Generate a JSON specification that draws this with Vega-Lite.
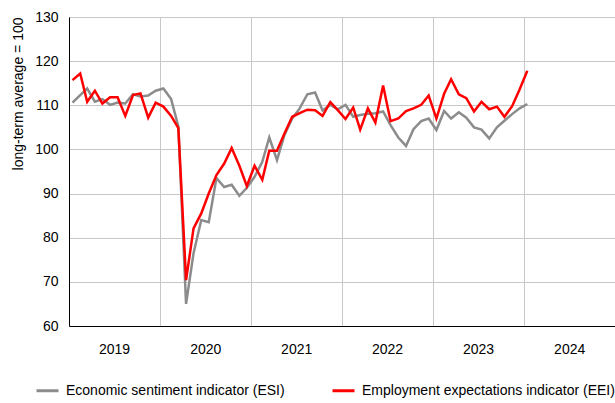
{
  "$schema": "https://vega.github.io/schema/vega-lite/v6.json",
  "width": 546,
  "height": 309,
  "autosize": {"type": "none"},
  "padding": {"left": 69, "top": 17, "right": 0, "bottom": 77},
  "background": "white",
  "config": {
    "font": "Liberation Sans",
    "view": {"stroke": null},
    "axis": {"labelFont": "Liberation Sans", "titleFont": "Liberation Sans", "labelFontSize": 14, "titleFontSize": 14, "labelColor": "#000000", "titleColor": "#000000", "titleFontWeight": "normal", "gridColor": "#c8c8c8", "gridWidth": 1, "domainColor": "#000000", "domainWidth": 1, "ticks": false},
    "legend": {"labelFont": "Liberation Sans", "labelFontSize": 14, "labelColor": "#000000"}
  },
  "data": {
    "values": [
      {"date": "2019-01-15", "ESI": 110.6, "EEI": 115.7},
      {"date": "2019-02-15", "ESI": 112.3, "EEI": 117.2},
      {"date": "2019-03-15", "ESI": 113.8, "EEI": 110.8},
      {"date": "2019-04-15", "ESI": 110.8, "EEI": 113.3},
      {"date": "2019-05-15", "ESI": 111.4, "EEI": 110.4},
      {"date": "2019-06-15", "ESI": 110.1, "EEI": 111.8},
      {"date": "2019-07-15", "ESI": 110.6, "EEI": 111.8},
      {"date": "2019-08-15", "ESI": 110.4, "EEI": 107.6},
      {"date": "2019-09-15", "ESI": 112.5, "EEI": 112.3},
      {"date": "2019-10-15", "ESI": 112.0, "EEI": 112.7},
      {"date": "2019-11-15", "ESI": 112.2, "EEI": 107.2},
      {"date": "2019-12-15", "ESI": 113.3, "EEI": 110.6},
      {"date": "2020-01-15", "ESI": 113.8, "EEI": 109.7},
      {"date": "2020-02-15", "ESI": 111.4, "EEI": 107.6},
      {"date": "2020-03-15", "ESI": 105.2, "EEI": 104.8},
      {"date": "2020-04-15", "ESI": 65.0, "EEI": 70.4},
      {"date": "2020-05-15", "ESI": 76.5, "EEI": 82.1},
      {"date": "2020-06-15", "ESI": 84.0, "EEI": 85.5},
      {"date": "2020-07-15", "ESI": 83.5, "EEI": 90.0},
      {"date": "2020-08-15", "ESI": 93.5, "EEI": 94.2},
      {"date": "2020-09-15", "ESI": 91.5, "EEI": 96.8},
      {"date": "2020-10-15", "ESI": 92.0, "EEI": 100.3},
      {"date": "2020-11-15", "ESI": 89.5, "EEI": 96.3},
      {"date": "2020-12-15", "ESI": 91.3, "EEI": 91.7},
      {"date": "2021-01-15", "ESI": 93.8, "EEI": 96.3},
      {"date": "2021-02-15", "ESI": 97.2, "EEI": 93.1},
      {"date": "2021-03-15", "ESI": 102.7, "EEI": 99.7},
      {"date": "2021-04-15", "ESI": 97.6, "EEI": 99.7},
      {"date": "2021-05-15", "ESI": 103.3, "EEI": 103.6},
      {"date": "2021-06-15", "ESI": 107.0, "EEI": 107.4},
      {"date": "2021-07-15", "ESI": 109.3, "EEI": 108.2},
      {"date": "2021-08-15", "ESI": 112.5, "EEI": 109.0},
      {"date": "2021-09-15", "ESI": 112.9, "EEI": 108.9},
      {"date": "2021-10-15", "ESI": 108.8, "EEI": 107.6},
      {"date": "2021-11-15", "ESI": 110.1, "EEI": 110.7},
      {"date": "2021-12-15", "ESI": 109.1, "EEI": 108.9},
      {"date": "2022-01-15", "ESI": 110.1, "EEI": 106.9},
      {"date": "2022-02-15", "ESI": 107.4, "EEI": 109.5},
      {"date": "2022-03-15", "ESI": 107.8, "EEI": 104.5},
      {"date": "2022-04-15", "ESI": 108.1, "EEI": 109.3},
      {"date": "2022-05-15", "ESI": 108.2, "EEI": 106.1},
      {"date": "2022-06-15", "ESI": 108.6, "EEI": 114.5},
      {"date": "2022-07-15", "ESI": 105.5, "EEI": 106.4},
      {"date": "2022-08-15", "ESI": 102.7, "EEI": 107.0},
      {"date": "2022-09-15", "ESI": 100.8, "EEI": 108.7},
      {"date": "2022-10-15", "ESI": 104.6, "EEI": 109.3},
      {"date": "2022-11-15", "ESI": 106.4, "EEI": 110.1},
      {"date": "2022-12-15", "ESI": 107.0, "EEI": 112.2},
      {"date": "2023-01-15", "ESI": 104.4, "EEI": 107.0},
      {"date": "2023-02-15", "ESI": 108.7, "EEI": 112.6},
      {"date": "2023-03-15", "ESI": 107.0, "EEI": 115.9},
      {"date": "2023-04-15", "ESI": 108.4, "EEI": 112.5},
      {"date": "2023-05-15", "ESI": 107.2, "EEI": 111.6},
      {"date": "2023-06-15", "ESI": 105.0, "EEI": 108.6},
      {"date": "2023-07-15", "ESI": 104.5, "EEI": 110.8},
      {"date": "2023-08-15", "ESI": 102.5, "EEI": 109.1},
      {"date": "2023-09-15", "ESI": 105.0, "EEI": 109.7},
      {"date": "2023-10-15", "ESI": 106.5, "EEI": 107.4},
      {"date": "2023-11-15", "ESI": 108.0, "EEI": 109.8},
      {"date": "2023-12-15", "ESI": 109.3, "EEI": 113.6},
      {"date": "2024-01-15", "ESI": 110.3, "EEI": 117.8}
    ]
  },
  "transform": [
    {"fold": ["ESI", "EEI"], "as": ["series", "value"]}
  ],
  "encoding": {
    "x": {
      "field": "date",
      "type": "temporal",
      "title": null,
      "scale": {"type": "utc", "domain": [{"year": 2019, "month": 1, "date": 1, "utc": true}, {"year": 2025, "month": 1, "date": 1, "utc": true}]},
      "axis": {
        "values": [
          {"year": 2019, "month": 1, "date": 1, "utc": true}, {"year": 2019, "month": 7, "date": 1, "utc": true},
          {"year": 2020, "month": 1, "date": 1, "utc": true}, {"year": 2020, "month": 7, "date": 1, "utc": true},
          {"year": 2021, "month": 1, "date": 1, "utc": true}, {"year": 2021, "month": 7, "date": 1, "utc": true},
          {"year": 2022, "month": 1, "date": 1, "utc": true}, {"year": 2022, "month": 7, "date": 1, "utc": true},
          {"year": 2023, "month": 1, "date": 1, "utc": true}, {"year": 2023, "month": 7, "date": 1, "utc": true},
          {"year": 2024, "month": 1, "date": 1, "utc": true}, {"year": 2024, "month": 7, "date": 1, "utc": true},
          {"year": 2025, "month": 1, "date": 1, "utc": true}
        ],
        "labelExpr": "utcmonth(datum.value) == 6 ? utcFormat(datum.value, '%Y') : ''",
        "gridOpacity": {"condition": {"test": "utcmonth(datum.value) == 0", "value": 1}, "value": 0},
        "labelPadding": 16,
        "labelFlush": false,
        "labelOverlap": false
      }
    },
    "y": {
      "field": "value",
      "type": "quantitative",
      "scale": {"domain": [60, 130], "nice": false, "zero": false},
      "axis": {"title": "long-term average = 100", "values": [60, 70, 80, 90, 100, 110, 120, 130], "labelPadding": 11, "titlePadding": 9, "titleAnchor": "end", "labelFlush": false}
    },
    "color": {
      "field": "series",
      "type": "nominal",
      "scale": {"domain": ["ESI", "EEI"], "range": ["#8c8c8c", "#ff0000"]},
      "legend": {
        "title": null,
        "orient": "none",
        "direction": "horizontal",
        "legendX": -34,
        "legendY": 361,
        "symbolType": "stroke",
        "symbolSize": 484,
        "symbolStrokeWidth": 3,
        "labelOffset": 6,
        "columnPadding": 41,
        "padding": 0,
        "labelLimit": 400,
        "labelExpr": "datum.value == 'ESI' ? 'Economic sentiment indicator (ESI)' : 'Employment expectations indicator (EEI)'"
      }
    }
  },
  "layer": [
    {"transform": [{"filter": "datum.series == 'ESI'"}], "mark": {"type": "line", "strokeWidth": 2.5}},
    {"transform": [{"filter": "datum.series == 'EEI'"}], "mark": {"type": "line", "strokeWidth": 2.5}}
  ]
}
